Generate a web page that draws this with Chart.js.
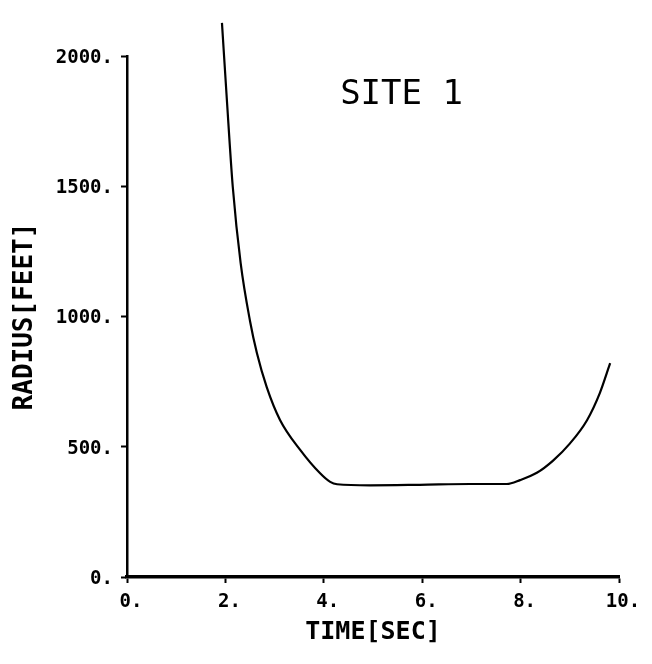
<!DOCTYPE html>
<html>
<head>
<meta charset="utf-8">
<script src="https://cdn.jsdelivr.net/npm/chart.js@4/dist/chart.umd.min.js"></script>
<style>
	html, body { margin: 0; padding: 0; background: #fff; }
	#wrap { width: 652px; height: 664px; }
</style>
</head>
<body>
<div id="wrap"><canvas id="SiteChart"></canvas></div>
<script>
// values
var timeSec   = [1.93, 2.03, 2.15, 2.31, 2.5, 2.64, 2.84, 3.11, 3.52, 3.92, 4.13, 4.27, 4.94, 5.95, 6.97, 7.72, 7.99, 8.33, 8.66, 9.0, 9.35, 9.61, 9.82];
var radiusFt  = [2127, 1831, 1497, 1205, 983, 860, 729, 603, 488, 399, 365, 356, 352, 354, 357, 357, 372, 400, 447, 512, 602, 706, 821];
var xTicks    = [0, 2, 4, 6, 8, 10];
var yTicks    = [0, 500, 1000, 1500, 2000];
var chartTitle = 'SITE 1';

var mono = 'DejaVu Sans Mono';

// "SITE 1" sits inside the plot area
var siteLabel = {
	id: 'siteLabel',
	afterDatasetsDraw: function(chart) {
		var c = chart.ctx;
		c.save();
		c.font = '34px "' + mono + '"';
		c.fillStyle = '#000';
		c.textAlign = 'center';
		c.textBaseline = 'middle';
		c.fillText(chartTitle, chart.scales.x.getPixelForValue(5.58), chart.scales.y.getPixelForValue(1850));
		c.restore();
	}
};

var ctx = document.getElementById("SiteChart");
var myChart = new Chart(ctx, {
	type: 'line',
	data: {
		datasets: [{
			data: timeSec.map(function(t, i) { return { x: t, y: radiusFt[i] }; }),
			borderColor: '#000',
			borderWidth: 2.2,
			pointRadius: 0,
			fill: false,
			cubicInterpolationMode: 'monotone',
			clip: false
		}]
	},
	options: {
		responsive: true,
		maintainAspectRatio: false,
		animation: false,
		layout: { padding: { top: 56, right: 33, left: 0, bottom: 0 } },
		scales: {
			x: {
				type: 'linear',
				min: 0,
				max: 10,
				afterBuildTicks: function(s) { s.ticks = xTicks.map(function(v) { return { value: v }; }); },
				afterFit: function(s) { s.height = 87; },
				ticks: {
					color: '#000',
					padding: 8,
					labelOffset: 4,
					font: { family: mono, size: 19, weight: 'bold' },
					callback: function(v) { return v + '.'; }
				},
				grid: { drawOnChartArea: false, tickLength: 6, tickColor: '#000', tickWidth: 2 },
				border: { color: '#000', width: 3.5 },
				title: {
					display: true,
					text: 'TIME[SEC]',
					color: '#000',
					font: { family: mono, size: 25, weight: 'bold' },
					padding: { top: 0, bottom: 17 }
				}
			},
			y: {
				min: 0,
				max: 2000,
				afterBuildTicks: function(s) { s.ticks = yTicks.map(function(v) { return { value: v }; }); },
				afterFit: function(s) { s.width = 127; },
				ticks: {
					color: '#000',
					padding: 8,
					labelOffset: 2,
					font: { family: mono, size: 19, weight: 'bold' },
					callback: function(v) { return v + '.'; }
				},
				grid: { drawOnChartArea: false, tickLength: 6, tickColor: '#000', tickWidth: 2 },
				border: { color: '#000', width: 2.5 },
				title: {
					display: true,
					text: 'RADIUS[FEET]',
					color: '#000',
					font: { family: mono, size: 26, weight: 'bold' },
					padding: { top: 10, bottom: 0 }
				}
			}
		},
		plugins: {
			legend: { display: false },
			tooltip: { enabled: false }
		}
	},
	plugins: [siteLabel]
});
</script>
</body>
</html>
